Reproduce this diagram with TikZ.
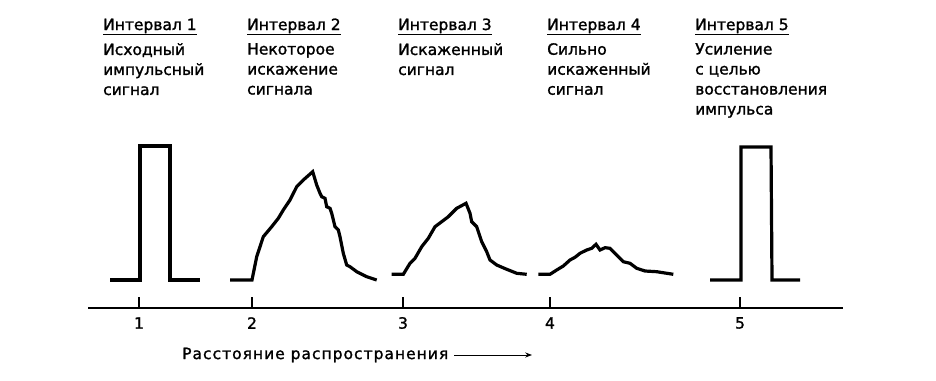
\documentclass[tikz,border=0pt]{standalone}
\usepackage{fontspec}
\setmainfont{DejaVu Sans}[FakeBold=1.4]
\usetikzlibrary{positioning,arrows.meta}
\tikzset{
  intervalhead/.style={anchor=base west, inner sep=0pt, font=\fontsize{15.5}{20}\selectfont},
  intervaltext/.style={anchor=north west, inner sep=0pt, align=left, font=\fontsize{15.5}{20}\selectfont},
  headline/.style={line width=1.8pt},
  signal/.style={line width=3.2pt, line join=miter},
  axisline/.style={line width=1.6pt},
  ticklabel/.style={inner sep=0pt, font=\fontsize{15.5}{18}\selectfont},
  distlabel/.style={anchor=west, inner sep=0pt, font=\fontsize{15.5}{18}\selectfont\addfontfeature{LetterSpace=6.5}},
  distarrow/.style={-{Stealth[length=2.4mm, width=1.8mm]}, line width=1pt}
}

\begin{document}
\begin{tikzpicture}[x=1pt, y=-1pt]
  \useasboundingbox (0,0) rectangle (936,380);
  \node[intervalhead] (h1) at (103,30) {Интервал 1};
  \node[intervalhead] (h2) at (247,30) {Интервал 2};
  \node[intervalhead] (h3) at (398,30) {Интервал 3};
  \node[intervalhead] (h4) at (547,30) {Интервал 4};
  \node[intervalhead] (h5) at (695,30) {Интервал 5};
  \foreach \i in {1,...,5}
    \draw[headline] ([yshift=-1pt]h\i.south west) -- ([yshift=-1pt]h\i.south east);
  \node[intervaltext] (d1) at (103,43) {Исходный\\импульсный\\сигнал};
  \node[intervaltext] (d2) at (247,43) {Некоторое\\искажение\\сигнала};
  \node[intervaltext] (d3) at (398,43) {Искаженный\\сигнал};
  \node[intervaltext] (d4) at (547,43) {Сильно\\искаженный\\сигнал};
  \node[intervaltext] (d5) at (695,43) {Усиление\\с целью\\восстановления\\импульса};

  \draw[signal] (110,280) -- (140,280) -- (140,146) -- (170,146) -- (170,280) -- (200,280);
  \draw[signal] (230,280) -- (252,280) -- (256.7,256.7) -- (263.3,236.7) -- (271.7,226.7)
    -- (278.3,218.3) -- (283.3,210) -- (290,200) -- (296.7,186.7) -- (303.3,180)
    -- (312.7,171.7) -- (316.7,185) -- (320,193.3) -- (321.7,196.7) -- (325,198.3)
    -- (326.7,206.7) -- (330,208.3) -- (331.7,213.3) -- (335,226.7) -- (338.3,230)
    -- (340,236.7) -- (343.3,253.3) -- (346.7,265) -- (350,266.7) -- (356.7,271.7)
    -- (366.7,276.7) -- (376.7,280);
  \draw[signal] (391.7,274.3) -- (403.3,274.3) -- (410,263.3) -- (415,258.3) -- (421.7,246.7)
    -- (428.3,238.3) -- (435,226.7) -- (441.7,221.7) -- (448.3,216.7) -- (456.7,208.3)
    -- (466,203.3) -- (470,213.3) -- (471.7,221.7) -- (476.7,226.7) -- (481.7,241.7)
    -- (486.7,251.7) -- (490,260) -- (496.7,265) -- (506.7,269.3) -- (516.7,273.3)
    -- (526.7,274.3);
  \draw[signal] (538.3,274.3) -- (550,274.3) -- (556.7,270) -- (563.3,266) -- (570,260)
    -- (575,257.3) -- (580,253.3) -- (586.7,250) -- (591.7,248.3) -- (596,244.3)
    -- (600,250) -- (605,247.7) -- (610,248.3) -- (616.7,255) -- (623.3,261.7)
    -- (630,263.3) -- (636.7,268.3) -- (645,271) -- (656.7,271.7) -- (673.3,274.3);
  \draw[signal] (710,280) -- (741,280) -- (741,147) -- (771,147) -- (772,280) -- (800,280);

  \coordinate (axl) at (88,308);
  \coordinate (axr) at (843,308);
  \draw[axisline] (axl) -- (axr);
  \foreach \x/\n in {139/1, 252/2, 403/3, 550/4, 740/5} {
    \draw[axisline] (\x,297) -- (\x,308);
    \node[ticklabel] (t\n) at (\x,323) {\n};
  }

  \node[distlabel] (dist) at (182,355) {Расстояние распространения};
  \coordinate (distend) at (532,355);
  \draw[distarrow] ([xshift=6pt]dist.east) -- (distend);
\end{tikzpicture}
\end{document}
